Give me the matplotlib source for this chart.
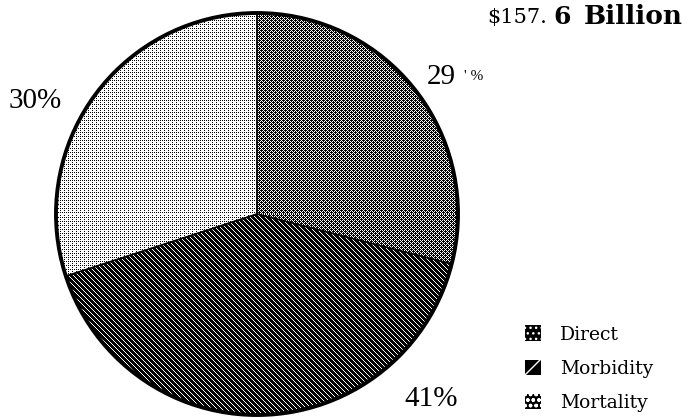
import numpy as np
import matplotlib
matplotlib.use("Agg")
import matplotlib.pyplot as plt
from matplotlib.patches import Patch, Circle

labels = ["Direct", "Morbidity", "Mortality"]
shares = [29, 41, 30]
title_a = "$157."
title_b = "6"
title_c = "Billion"

W, H = 699, 419
fig = plt.figure(figsize=(W / 100, H / 100), dpi=100)

# pie centre (257, 214) px from top-left, radius 201 px
cx, cy, r = 257, 214, 201
ax = fig.add_axes([(cx - r) / W, (H - cy - r) / H, 2 * r / W, 2 * r / H])
ax.patch.set_visible(False)

wedges, _ = ax.pie(shares, startangle=90, counterclock=False, radius=1,
                   wedgeprops=dict(facecolor="none", edgecolor="black", linewidth=1))
ax.set_xlim(-1, 1)
ax.set_ylim(-1, 1)
ax.axis("off")

# pixel textures, 1 = black
n = 2 * r
yy, xx = np.mgrid[0:n, 0:n]
direct = ~(((xx + yy) % 2 == 1) & (xx % 2 == 0)) & ~(((xx + yy) % 4 == 1))
morb = ((xx - yy) % 5) != 0
mort = (xx % 2 == 0) & (yy % 2 == 0) & ~((xx % 4 == 2) & (yy % 4 == 2))
textures = [direct, morb, mort]

for w, tex in zip(wedges, textures):
    im = ax.imshow(1 - tex.astype(float), cmap="gray", vmin=0, vmax=1,
                   extent=(-1, 1, -1, 1), interpolation="nearest", aspect="auto")
    im.set_clip_path(w)

ax.add_patch(Circle((0, 0), 1, facecolor="none", edgecolor="black",
                    linewidth=2.8, clip_on=False, zorder=5))

serif = ["Liberation Serif", "DejaVu Serif"]
wide = ["DejaVu Serif"]

def fx(x):
    return x / W

def fy(y):
    return 1 - y / H

fig.text(fx(441), fy(77), "29", fontsize=21, family=serif, ha="center", va="center")
fig.text(fx(474), fy(76), "' %", fontsize=11, family=serif, ha="center", va="center")
fig.text(fx(35), fy(101), "30%", fontsize=21, family=serif, ha="center", va="center")
fig.text(fx(431), fy(399), "41%", fontsize=21, family=serif, ha="center", va="center")

fig.text(fx(487), fy(18), title_a, fontsize=15, family=wide, ha="left", va="center")
fig.text(fx(553), fy(17), title_b, fontsize=18, family=wide, weight="bold",
         ha="left", va="center")
fig.text(fx(584), fy(17), title_c, fontsize=19, family=wide, weight="bold",
         ha="left", va="center")

handles = [
    Patch(facecolor="black", edgecolor="white", hatch="...", linewidth=0),
    Patch(facecolor="black", edgecolor="white", hatch="/", linewidth=0),
    Patch(facecolor="black", edgecolor="white", hatch="ooo", linewidth=0),
]
leg = fig.legend(handles, labels, loc="upper left", bbox_to_anchor=(fx(516), fy(316)),
                 frameon=False, prop=dict(family=wide, size=13.5),
                 handlelength=0.85, handleheight=0.9, handletextpad=1.0,
                 labelspacing=0.85, borderpad=0)

fig.savefig("out.png", dpi=100)
